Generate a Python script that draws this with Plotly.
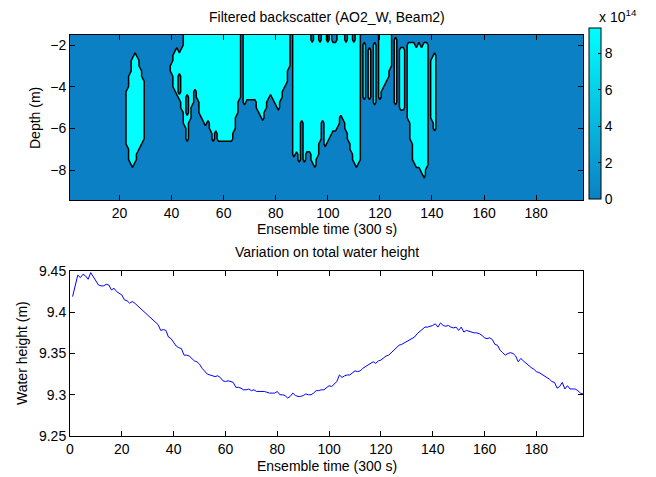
import numpy as np
import plotly.graph_objects as go

# ---------------- top panel: filtered backscatter ----------------
ENSEMBLE = list(range(1, 199))
DEPTH = [-1.5, -1.75, -2.0, -2.25, -2.5, -2.75, -3.0, -3.25, -3.5, -3.75, -4.0,
         -4.25, -4.5, -4.75, -5.0, -5.25, -5.5, -5.75, -6.0, -6.25, -6.5, -6.75,
         -7.0, -7.25, -7.5, -7.75, -8.0, -8.25, -8.5, -8.75, -9.0, -9.25, -9.5]

BACKSCATTER_LOW = 0.0
BACKSCATTER_HIGH = 9.0e14

# strong-backscatter segments: ensemble index, upper depth, lower depth
SEG_X = [23, 24, 25, 26, 27, 28, 29,
         40, 41, 42, 43, 43, 44, 45, 46, 46, 47, 48, 49, 50, 51, 52, 53, 54, 55,
         56, 57, 58, 59, 60, 61, 62, 63, 64, 65, 66,
         68, 69, 70, 71, 72, 73, 74, 75, 76, 77, 78, 79, 80, 81, 82, 83, 84, 85,
         87, 88, 89, 90, 91, 92, 93, 94, 95, 96, 97, 98, 99, 100, 101, 102, 103,
         104, 105, 106, 107, 108, 109, 110, 111, 112,
         114, 116, 118, 120, 121, 122, 123, 124, 126, 128, 129,
         131, 132, 133, 134, 135, 136, 137, 138,
         140, 141]
SEG_TOP = [-4.2, -3.3, -2.7, -2.5, -2.6, -3.1, -3.7,
           -2.9, -2.3, -2.1, -2.4, -4.3, -2.1, -1.5, -1.5, -5.3, -1.5, -1.5, -1.5, -1.5, -1.5, -1.5, -1.5, -1.5, -1.5,
           -1.5, -1.5, -1.5, -1.5, -1.5, -1.5, -1.5, -1.5, -1.5, -1.5, -1.5,
           -1.5, -1.5, -1.5, -1.5, -1.5, -1.5, -1.5, -1.5, -1.5, -1.5, -1.5, -1.5, -1.5, -1.5, -1.5, -1.5, -1.5, -1.5,
           -1.5, -1.5, -1.5, -1.5, -1.5, -1.5, -1.5, -1.9, -1.5, -1.5, -1.9, -1.5, -1.5, -1.9, -1.5, -1.9, -1.9,
           -1.5, -1.5, -1.5, -1.9, -1.5, -1.5, -1.9, -1.5, -1.5,
           -1.9, -2.1, -1.9, -1.5, -1.5, -1.5, -1.5, -1.5, -1.7, -2.1, -2.1,
           -1.9, -1.9, -1.9, -2.1, -1.9, -2.1, -1.9, -1.9,
           -2.7, -2.5]
SEG_BOTTOM = [-6.9, -7.5, -7.9, -7.6, -7.2, -6.9, -6.5,
              -3.4, -4.0, -4.3, -3.4, -4.7, -5.0, -5.9, -4.3, -6.5, -5.6, -4.8, -4.2, -4.6, -5.3, -5.6, -5.9, -5.6, -6.1,
              -6.5, -6.1, -6.5, -6.5, -6.5, -6.5, -6.5, -6.5, -6.1, -5.4, -4.5,
              -4.9, -4.5, -4.5, -4.5, -4.7, -5.0, -5.4, -5.5, -5.0, -4.5, -4.4, -4.5, -4.9, -5.0, -4.5, -4.1, -3.8, -3.1,
              -7.3, -7.2, -7.5, -5.6, -7.5, -7.1, -7.1, -7.5, -7.9, -7.3, -6.7, -5.6, -6.8, -6.5, -6.3, -6.2, -6.0,
              -5.8, -5.4, -5.5, -6.2, -6.6, -7.0, -7.5, -7.8, -7.6,
              -4.7, -4.7, -4.8, -4.5, -4.1, -3.8, -3.5, -3.2, -4.9, -5.0, -5.0,
              -5.5, -6.5, -7.6, -7.8, -7.8, -8.2, -8.4, -7.8,
              -5.7, -6.0]

CBAR_TICKS = [0, 2e14, 4e14, 6e14, 8e14]
CBAR_LABELS = ['0', '2', '4', '6', '8']
CBAR_MAX = 9.4e14

# ---------------- bottom panel: water height ----------------
WATER_HEIGHT = [
    9.419, 9.433, 9.445, 9.442, 9.446, 9.444, 9.440, 9.448, 9.443, 9.438,
    9.433, 9.432, 9.432, 9.434, 9.433, 9.427, 9.429, 9.425, 9.423, 9.421,
    9.415, 9.414, 9.411, 9.413, 9.411, 9.408, 9.405, 9.402, 9.400, 9.396,
    9.394, 9.390, 9.388, 9.385, 9.378, 9.379, 9.378, 9.370, 9.368, 9.363,
    9.359, 9.357, 9.356, 9.348, 9.348, 9.347, 9.344, 9.341, 9.340, 9.337,
    9.332, 9.328, 9.325, 9.324, 9.323, 9.322, 9.323, 9.321, 9.317, 9.316,
    9.317, 9.316, 9.315, 9.309, 9.309, 9.308, 9.306, 9.306, 9.307, 9.305,
    9.306, 9.304, 9.304, 9.304, 9.304, 9.303, 9.302, 9.302, 9.302, 9.304,
    9.300, 9.300, 9.299, 9.296, 9.298, 9.302, 9.299, 9.298, 9.298, 9.299,
    9.301, 9.300, 9.300, 9.302, 9.305, 9.305, 9.306, 9.306, 9.308, 9.311,
    9.310, 9.313, 9.316, 9.324, 9.321, 9.323, 9.324, 9.324, 9.326, 9.329,
    9.328, 9.329, 9.332, 9.334, 9.336, 9.338, 9.340, 9.338, 9.341, 9.342,
    9.345, 9.347, 9.348, 9.351, 9.354, 9.356, 9.360, 9.361, 9.363, 9.365,
    9.366, 9.368, 9.370, 9.374, 9.377, 9.380, 9.382, 9.382, 9.383, 9.384,
    9.386, 9.382, 9.387, 9.384, 9.383, 9.384, 9.382, 9.381, 9.382, 9.378,
    9.382, 9.376, 9.378, 9.377, 9.376, 9.375, 9.375, 9.374, 9.372, 9.369,
    9.368, 9.369, 9.367, 9.361, 9.360, 9.354, 9.351, 9.348, 9.350, 9.351,
    9.350, 9.347, 9.340, 9.344, 9.341, 9.338, 9.335, 9.333, 9.331, 9.328,
    9.327, 9.325, 9.324, 9.321, 9.319, 9.316, 9.315, 9.308, 9.310, 9.315,
    9.307, 9.311, 9.307, 9.307, 9.307, 9.305, 9.302, 9.301]
WH_TICKS = [9.25, 9.3, 9.35, 9.4, 9.45]
WH_LABELS = ['9.25', '9.3', '9.35', '9.4', '9.45']

# ---------------- build field ----------------
z = np.full((len(DEPTH), len(ENSEMBLE)), BACKSCATTER_LOW)
for sx, st, sb in zip(SEG_X, SEG_TOP, SEG_BOTTOM):
    c = ENSEMBLE.index(sx)
    for i, d in enumerate(DEPTH):
        if sb - 1e-9 <= d <= st + 1e-9:
            z[i, c] = BACKSCATTER_HIGH

BLUE = 'rgb(12,128,196)'
CYAN = 'rgb(0,255,255)'
CSCALE = [[0, BLUE], [1, CYAN]]
FONT = 'Liberation Sans, Arial, Helvetica, sans-serif'
OFF = 8                      # page body margin
W, H = 656 - OFF, 477 - OFF  # figure fits the window after the offset

def px(v):
    return (v - OFF) / W

def py(v):
    return 1 - (v - OFF) / H

fig = go.Figure()
lvl = (BACKSCATTER_LOW + BACKSCATTER_HIGH) / 2
fig.add_trace(go.Contour(
    x=ENSEMBLE, y=DEPTH, z=z,
    contours=dict(start=lvl, end=lvl, size=BACKSCATTER_HIGH - BACKSCATTER_LOW, coloring='fill'),
    colorscale=CSCALE, showscale=False,
    line=dict(color='black', width=1.5, smoothing=0),
    hoverinfo='skip', xaxis='x', yaxis='y'))

# colour bar carrier (invisible)
fig.add_trace(go.Scatter(
    x=[ENSEMBLE[0]], y=[DEPTH[0]], mode='markers', showlegend=False, hoverinfo='skip',
    marker=dict(opacity=0, color=[0], colorscale=CSCALE, cmin=0, cmax=CBAR_MAX, showscale=True,
                colorbar=dict(x=px(589), xanchor='left', y=py((28 + 199) / 2), yanchor='middle',
                              len=(199 - 28) / H, lenmode='fraction', thickness=12, thicknessmode='pixels',
                              xpad=0, ypad=0, outlinewidth=1, outlinecolor='black',
                              tickvals=CBAR_TICKS, ticktext=CBAR_LABELS, ticks='inside', ticklen=3,
                              tickcolor='black', tickfont=dict(family=FONT, size=14, color='black'))),
    xaxis='x', yaxis='y'))

fig.add_trace(go.Scatter(
    x=ENSEMBLE, y=WATER_HEIGHT, mode='lines', line=dict(color='rgb(0,0,255)', width=1),
    showlegend=False, xaxis='x2', yaxis='y2'))

ax_common = dict(showline=True, linecolor='black', linewidth=1, mirror='ticks', ticks='inside',
                 ticklen=5, tickcolor='black', showgrid=False, zeroline=False, automargin=False,
                 tickfont=dict(family=FONT, size=14, color='black'))

fig.update_layout(
    width=W, height=H, margin=dict(l=0, r=0, t=0, b=0, pad=0, autoexpand=False),
    paper_bgcolor='white', plot_bgcolor='white', showlegend=False,
    xaxis=dict(domain=[px(70), px(583)], range=[1, 198], anchor='y',
               tickvals=[20, 40, 60, 80, 100, 120, 140, 160, 180], **ax_common),
    yaxis=dict(domain=[py(200), py(35)], range=[-9.44, -1.52], anchor='x',
               tickvals=[-8, -6, -4, -2], **ax_common),
    xaxis2=dict(domain=[px(70), px(583)], range=[0, 198], anchor='y2',
                tickvals=[0, 20, 40, 60, 80, 100, 120, 140, 160, 180], **ax_common),
    yaxis2=dict(domain=[py(436), py(271)], range=[9.25, 9.45], anchor='x2',
                tickvals=WH_TICKS, ticktext=WH_LABELS, **ax_common),
)

def note(text, x, y, angle=0, xanchor='center', size=14):
    fig.add_annotation(text=text, x=px(x), y=py(y), xref='paper', yref='paper', showarrow=False,
                       xanchor=xanchor, yanchor='middle', textangle=angle,
                       font=dict(family=FONT, size=size, color='black'))

note('Filtered backscatter (AO2_W, Beam2)', 326.5, 17)
note('Ensemble time (300 s)', 326.5, 229)
note('Depth (m)', 35, 118, angle=-90)
note('Variation on total water height', 326.5, 252)
note('Ensemble time (300 s)', 326.5, 466)
note('Water height (m)', 22, 353, angle=-90)
note('x 10<sup>14</sup>', 597, 16, xanchor='left')

fig.write_html('out.html')
